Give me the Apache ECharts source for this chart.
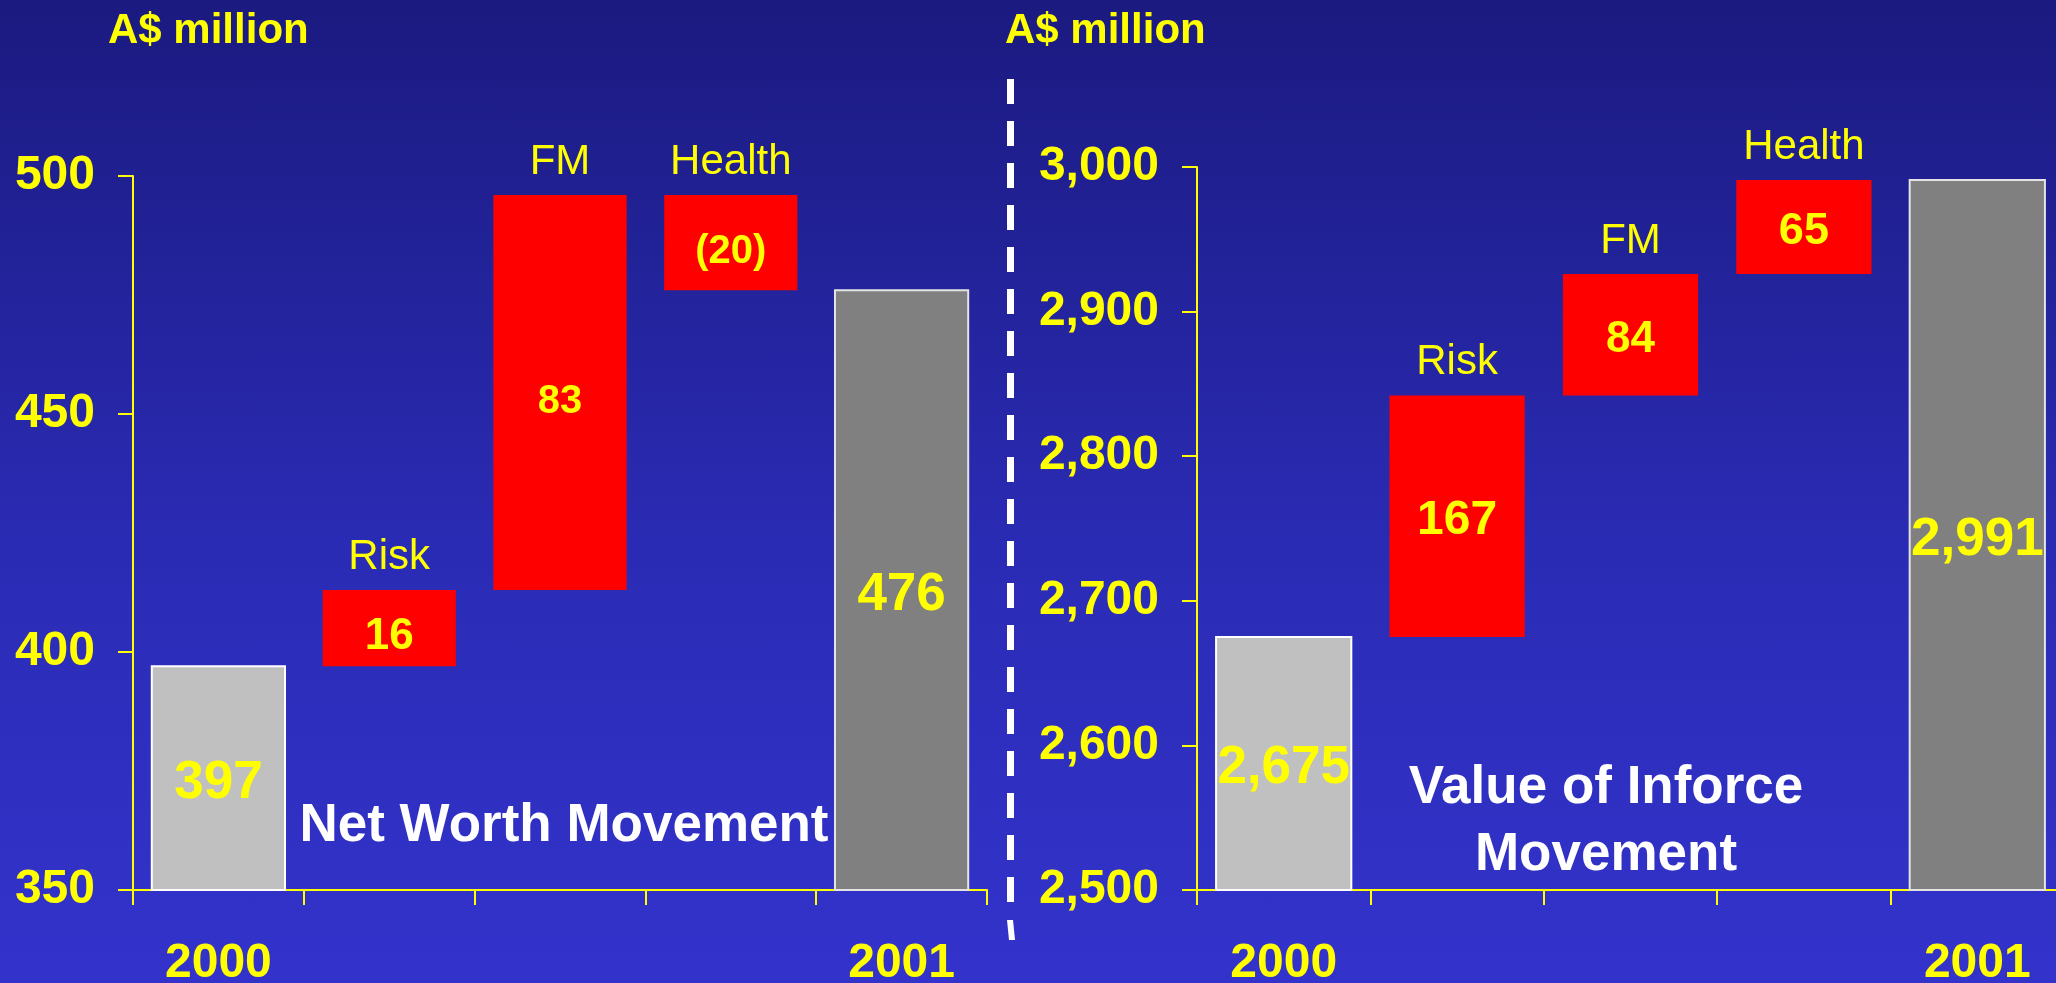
<!DOCTYPE html>
<html>
<head>
<meta charset="utf-8">
<title>Net Worth and Value of Inforce Movement</title>
<script src="https://cdn.jsdelivr.net/npm/echarts@6/dist/echarts.min.js"></script>
<style>
  html, body { margin: 0; padding: 0; }
  #chart {
    width: 2056px; height: 983px;
    background: linear-gradient(to bottom, #1b1a80 0%, #2a2bb4 55%, #3333cc 100%);
  }
</style>
</head>
<body>
<div id="chart"></div>
<script>
// Movement categories shared by both waterfalls
const categories = ['2000', 'Risk', 'FM', 'Health', '2001'];

// Net worth movement (A$ million)
const netWorthOpening = 397;
const netWorthMoves = [16, 83, -20];
const netWorthClosing = 476;
const netWorthTicks = [350, 400, 450, 500];

// Value of inforce movement (A$ million)
const inforceOpening = 2675;
const inforceMoves = [167, 84, 65];
const inforceClosing = 2991;
const inforceTicks = [2500, 2600, 2700, 2800, 2900, 3000];

const FONT = '"Liberation Sans", Arial, sans-serif';
const YELLOW = '#ffff00';

const fmt = v => Math.abs(v).toLocaleString('en-US');
const moveText = v => v < 0 ? '(' + fmt(v) + ')' : fmt(v);

// Turn opening / moves / closing into floating bar rows
function buildRows(opening, moves, closing, axisMin) {
  const rows = [{ low: axisMin, high: opening, text: fmt(opening), kind: 'open' }];
  let run = opening;
  moves.forEach((m, k) => {
    const next = run + m;
    rows.push({ low: Math.min(run, next), high: Math.max(run, next), text: moveText(m), kind: 'move', name: categories[k + 1] });
    run = next;
  });
  rows.push({ low: axisMin, high: closing, text: fmt(closing), kind: 'close' });
  return rows;
}

function waterfallSeries(rows, gridIndex, moveFontSizes, moveLabelShift) {
  return {
    type: 'custom',
    xAxisIndex: gridIndex,
    yAxisIndex: gridIndex,
    clip: false,
    data: rows.map((r, i) => [i, r.low, r.high]),
    encode: { x: 0, y: [1, 2] },
    renderItem(params, api) {
      const i = params.dataIndex;
      const r = rows[i];
      const top = api.coord([api.value(0), api.value(2)]);
      const bottom = api.coord([api.value(0), api.value(1)]);
      const w = api.size([1, 0])[0] * 0.78;
      const isMove = r.kind === 'move';
      const fill = r.kind === 'open' ? '#c0c0c0' : r.kind === 'close' ? '#808080' : '#ff0000';
      const stroke = r.kind === 'open' ? '#ffffff' : r.kind === 'close' ? '#e4e4e4' : null;
      const size = isMove ? moveFontSizes[i - 1] : 53;
      const children = [{
        type: 'rect',
        shape: { x: top[0] - w / 2, y: top[1], width: w, height: bottom[1] - top[1] },
        style: { fill: fill, stroke: stroke, lineWidth: stroke ? 2 : 0 },
        textContent: {
          style: { text: r.text, fill: YELLOW, font: 'bold ' + size + 'px ' + FONT }
        },
        textConfig: { position: 'inside', offset: [0, isMove ? moveLabelShift : 5] }
      }];
      if (isMove) {
        children.push({
          type: 'text',
          x: top[0],
          y: top[1] - 33,
          style: { text: r.name, fill: YELLOW, font: '42px ' + FONT, align: 'center', verticalAlign: 'middle' }
        });
      }
      return { type: 'group', children: children };
    }
  };
}

const nwRows = buildRows(netWorthOpening, netWorthMoves, netWorthClosing, netWorthTicks[0]);
const viRows = buildRows(inforceOpening, inforceMoves, inforceClosing, inforceTicks[0]);

function xAxis(gridIndex) {
  return {
    type: 'category',
    gridIndex: gridIndex,
    data: categories,
    boundaryGap: true,
    axisLine: { lineStyle: { color: YELLOW, width: 2 } },
    axisTick: { show: true, length: 15, lineStyle: { color: YELLOW, width: 2 } },
    axisLabel: {
      color: YELLOW, fontFamily: FONT, fontWeight: 'bold', fontSize: 48, margin: 50,
      formatter: (v, i) => (i === 0 || i === categories.length - 1) ? v : ''
    },
    splitLine: { show: false }
  };
}

function yAxis(gridIndex, ticks) {
  return {
    type: 'value',
    gridIndex: gridIndex,
    min: ticks[0],
    max: ticks[ticks.length - 1],
    interval: ticks[1] - ticks[0],
    axisLine: { show: true, lineStyle: { color: YELLOW, width: 2 } },
    axisTick: { show: true, length: 15, lineStyle: { color: YELLOW, width: 2 } },
    axisLabel: {
      color: YELLOW, fontFamily: FONT, fontWeight: 'bold', fontSize: 48, margin: 38,
      formatter: v => v.toLocaleString('en-US')
    },
    splitLine: { show: false }
  };
}

const titleText = (text, x, y, size) => ({
  type: 'text', x: x, y: y,
  style: { text: text, fill: YELLOW, font: 'bold ' + size + 'px ' + FONT, align: 'left', verticalAlign: 'middle' }
});

const option = {
  backgroundColor: 'transparent',
  animation: false,
  grid: [
    { left: 133, top: 176, width: 854, height: 714, outerBoundsMode: 'none', containLabel: false },
    // the right panel runs slightly past the canvas edge, so its last bar is cut off
    { left: 1197, top: 167, width: 867, height: 723, outerBoundsMode: 'none', containLabel: false }
  ],
  xAxis: [xAxis(0), xAxis(1)],
  yAxis: [yAxis(0, netWorthTicks), yAxis(1, inforceTicks)],
  series: [
    waterfallSeries(nwRows, 0, [44, 40, 40], 9),
    waterfallSeries(viRows, 1, [48, 44, 45], 5)
  ],
  graphic: [
    titleText('A$ million', 108, 31, 42),
    titleText('A$ million', 1005, 31, 42),
    {
      type: 'text', x: 564, y: 826,
      style: { text: 'Net Worth Movement', fill: '#ffffff', font: 'bold 53px ' + FONT, align: 'center', verticalAlign: 'middle' }
    },
    {
      type: 'text', x: 1606, y: 822,
      style: { text: 'Value of Inforce\nMovement', fill: '#ffffff', font: 'bold 53px ' + FONT, align: 'center', verticalAlign: 'middle', lineHeight: 67 }
    },
    // dashed divider between the two panels
    {
      type: 'line',
      shape: { x1: 1010.5, y1: 79, x2: 1010.5, y2: 902 },
      style: { stroke: '#ffffff', lineWidth: 7, lineDash: [25, 17] }
    },
    {
      type: 'polygon',
      shape: { points: [[1007, 920], [1013, 920], [1015, 940], [1009, 940]] },
      style: { fill: '#ffffff' }
    }
  ]
};

const chart = echarts.init(document.getElementById('chart'), null, { renderer: 'canvas' });
chart.setOption(option);
</script>
</body>
</html>
